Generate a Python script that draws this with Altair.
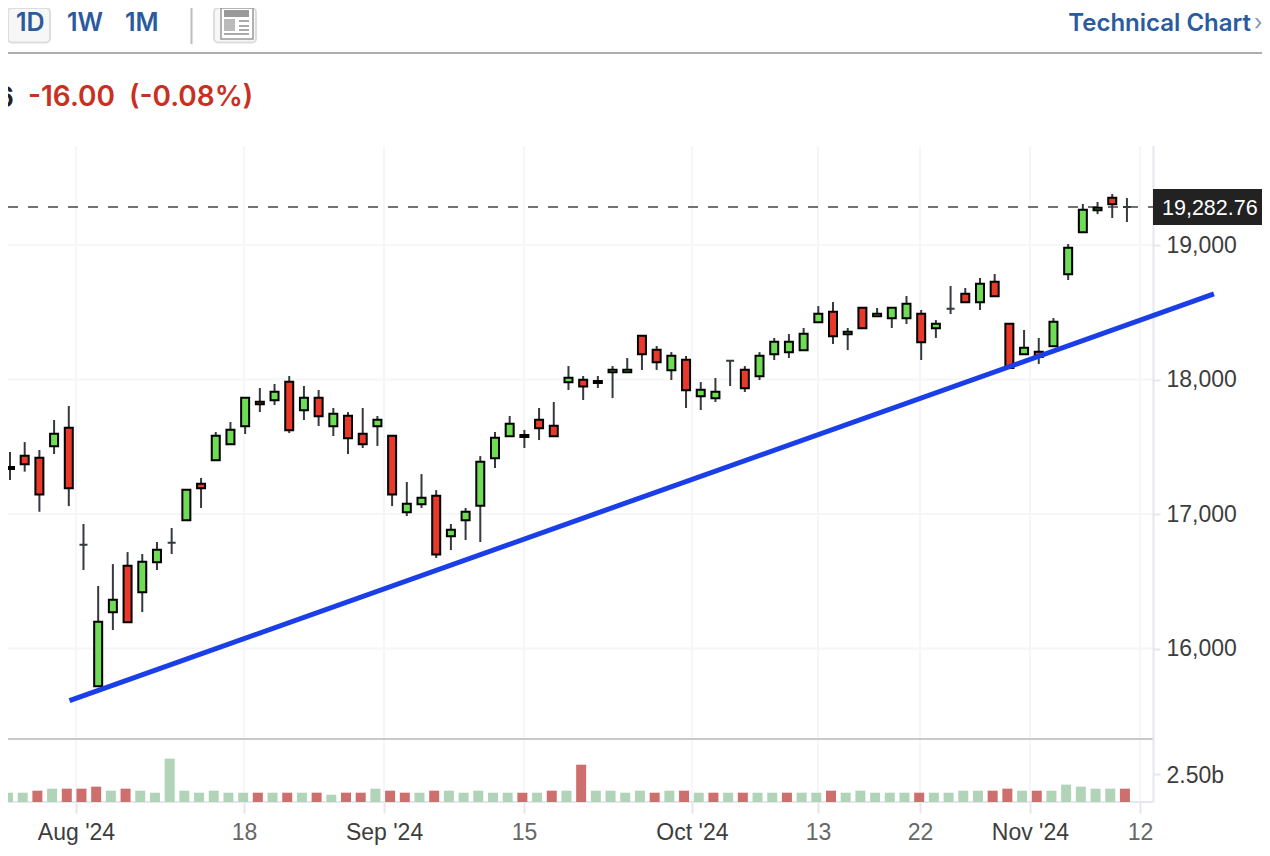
import json
import altair as alt
import pandas as pd

OPEN = [17335,17433,17419,17503,17642,16772,15719,16269,16616,16418,16641,16787,16953,17225,17399,17518,17652,17835,17845,17984,
        17771,17865,17652,17731,17597,17652,17582,17013,17072,17136,16834,16953,17062,17414,17578,17572,17701,17656,17979,17998,
        17974,18054,18054,18326,18222,18068,18147,17875,17860,18140,18073,18024,18187,18202,18217,18425,18504,18336,18534,18470,
        18455,18455,18489,18381,18526,18638,18574,18727,18415,18187,18207,18247,18782,19094,19258,19352,19283]
CLOSE = [17349,17370,17146,17597,17191,16772,16199,16363,16195,16645,16735,16787,17181,17191,17582,17627,17865,17816,17909,17622,
         17865,17726,17746,17563,17518,17701,17146,17077,17121,16700,16883,17017,17389,17567,17671,17587,17637,17578,18013,17949,
         17989,18073,18073,18187,18128,18177,17920,17924,17909,18140,17935,18177,18281,18281,18341,18489,18321,18355,18381,18489,
         18534,18564,18277,18415,18526,18574,18712,18619,18085,18236,18167,18430,18980,19262,19277,19303,19283]
HIGH = [17461,17535,17476,17699,17803,16926,16465,16628,16717,16703,16792,16896,17181,17268,17610,17684,17865,17937,17967,18026,
        17952,17922,17788,17758,17788,17729,17582,17238,17297,17178,16926,17045,17431,17610,17729,17625,17788,17833,18100,18026,
        18026,18100,18160,18326,18249,18204,18175,17981,18011,18140,18100,18204,18309,18338,18383,18546,18576,18383,18534,18532,
        18534,18621,18517,18442,18695,18680,18755,18784,18415,18368,18309,18457,19007,19305,19320,19379,19349]
LOW = [17253,17315,17017,17446,17059,16584,15719,16138,16195,16271,16584,16703,16953,17045,17399,17518,17595,17758,17810,17602,
       17699,17654,17580,17446,17491,17506,17059,16985,17045,16673,16732,16807,16792,17342,17578,17491,17550,17578,17922,17848,
       17937,17862,18054,18071,18071,17996,17788,17773,17833,17952,17907,17996,18145,18160,18217,18425,18264,18219,18381,18470,
       18383,18413,18145,18309,18487,18574,18517,18619,18085,18187,18115,18247,18740,19094,19230,19201,19171]
VOLUME = [0.83,0.83,1.01,1.19,1.19,1.19,1.37,1.01,1.19,1.01,0.83,3.87,1.01,0.83,1.01,0.83,0.83,0.83,0.83,0.83,
          0.83,0.83,0.65,0.83,0.83,1.19,1.01,0.83,0.83,1.01,1.01,0.83,1.01,0.83,0.83,0.83,0.83,1.01,1.01,3.33,
          1.01,1.01,0.83,1.01,0.83,1.01,1.01,0.83,0.83,0.83,0.83,0.83,0.83,0.83,0.83,0.83,1.01,0.83,1.01,0.83,
          0.83,0.83,0.83,0.83,0.83,1.01,1.01,1.01,1.19,1.01,1.01,1.01,1.55,1.37,1.19,1.19,1.19]
VOL_DIR = ["g","g","r","g","r","r","r","g","r","g","g","g","g","g","g","g","g","r","g","r",
           "g","r","g","r","r","g","r","r","g","r","g","g","g","g","g","r","g","r","g","r",
           "g","g","g","g","r","g","r","g","r","g","r","g","g","r","g","g","r","g","g","g",
           "g","g","r","g","g","g","g","r","r","g","r","g","g","g","g","g","r"]
TICK_IDX = [4.49, 15.92, 25.45, 34.97, 46.40, 54.98, 61.92, 69.40, 76.89]
TICK_LABELS = ["Aug '24", "18", "Sep '24", "15", "Oct '24", "13", "22", "Nov '24", "12"]
MONTH_TICKS = [4.49, 25.45, 46.40, 69.40]
PRICE_TICKS = [16000, 17000, 18000, 19000]
TREND_X = [4.05, 81.92]
TREND_Y = [15613, 18636]
LAST_PRICE = 19282.76

W, H = 1254, 838
FONT = "Liberation Sans"
UI = "Inter"

df = pd.DataFrame({"i": range(77), "open": OPEN, "close": CLOSE, "high": HIGH, "low": LOW, "vol": VOLUME, "vd": VOL_DIR})
df["dir"] = ["up" if c >= o else "down" for o, c in zip(OPEN, CLOSE)]
df["edge"] = ["doji" if o == c else "body" for o, c in zip(OPEN, CLOSE)]

xs = alt.Scale(domain=[-0.136, 85.19], nice=False, zero=False, padding=0)
ps = alt.Scale(domain=[14532, 20762], nice=False, zero=False)
vs = alt.Scale(domain=[-3.93, 70.89], nice=False, zero=False)
X0 = alt.X("i:Q", scale=xs, title=None)
blank = alt.Data(values=[{"a": 1}])


def px(v):
    return alt.value(v - 8)


def box(x1, y1, x2, y2, fill, stroke=None, sw=0, radius=0):
    kw = dict(fill=fill)
    if stroke:
        kw.update(stroke=stroke, strokeWidth=sw)
    if radius:
        kw.update(cornerRadius=radius)
    return alt.Chart(blank).mark_rect(**kw).encode(x=px(x1), x2=px(x2), y=px(y1), y2=px(y2))


def label(s, x, y, size, color, align="left", weight="normal", font=UI):
    return alt.Chart(blank).mark_text(text=s, align=align, baseline="middle", fontSize=size, fill=color,
                                      fontWeight=weight, font=font).encode(x=px(x), y=px(y))


def hline(x1, x2, y, color, w):
    return alt.Chart(blank).mark_rule(color=color, strokeWidth=w).encode(x=px(x1), x2=px(x2), y=px(y))


def vline(x, y1, y2, color, w):
    return alt.Chart(blank).mark_rule(color=color, strokeWidth=w).encode(x=px(x), y=px(y1), y2=px(y2))


X_AXIS = alt.Axis(
    orient="bottom", offset=-44, values=TICK_IDX, domain=False, grid=False,
    tickColor="#e6e7ee", tickWidth=2, tickSize=11,
    labelFont=FONT, labelFontSize=23, labelPadding=8, labelOverlap=False, labelFlush=False,
    labelExpr="%s[indexof(%s, datum.value)]" % (json.dumps(TICK_LABELS), json.dumps(TICK_IDX)),
    labelColor=alt.expr("indexof(%s, datum.value) >= 0 ? '#3d3d3d' : '#666666'" % json.dumps(MONTH_TICKS)))

grid_h = alt.Chart(pd.DataFrame({"p": PRICE_TICKS})).mark_rule(color="#f6f6f8", strokeWidth=2).encode(
    y=alt.Y("p:Q", scale=ps, axis=None), x=px(8), x2=px(1153))
grid_v = alt.Chart(pd.DataFrame({"t": TICK_IDX})).mark_rule(color="#f6f6f8", strokeWidth=2).encode(
    x=alt.X("t:Q", scale=xs, title=None, axis=X_AXIS), y=px(146), y2=px(802))

price_axis_layer = alt.Chart(pd.DataFrame({"p": PRICE_TICKS})).mark_rule(opacity=0).encode(
    y=alt.Y("p:Q", scale=ps, title=None, axis=alt.Axis(
        orient="right", offset=-109, values=PRICE_TICKS, domain=False, grid=False, format=",d",
        tickColor="#e6e7ee", tickWidth=2, tickSize=7, labelFont=FONT, labelFontSize=23,
        labelColor="#3d3d3d", labelPadding=6)))
vol_axis_layer = alt.Chart(pd.DataFrame({"v": [2.5]})).mark_rule(opacity=0).encode(
    y=alt.Y("v:Q", scale=vs, title=None, axis=alt.Axis(
        orient="right", offset=-109, values=[2.5], domain=False, grid=False, labelExpr="format(datum.value, '.2f') + 'b'",
        tickColor="#e6e7ee", tickWidth=2, tickSize=7, labelFont=FONT, labelFontSize=23, labelOffset=2,
        labelColor="#3d3d3d", labelPadding=6)))

last_rule = alt.Chart(pd.DataFrame({"p": [LAST_PRICE]})).mark_rule(color="#444444", strokeWidth=1.6, strokeDash=[10, 10]).encode(
    y=alt.Y("p:Q", scale=ps, axis=None), x=px(8), x2=px(1153))

wicks = alt.Chart(df).mark_rule(color="#343a40", strokeWidth=2).encode(
    x=X0, y=alt.Y("low:Q", scale=ps, axis=None), y2="high:Q")
bodies = alt.Chart(df).mark_bar(size=8, strokeWidth=2).encode(
    x=X0, y=alt.Y("open:Q", scale=ps, axis=None), y2="close:Q",
    fill=alt.Fill("dir:N", scale=alt.Scale(domain=["up", "down"], range=["#6fdc55", "#e8392a"]), legend=None),
    stroke=alt.Stroke("edge:N", scale=alt.Scale(domain=["body", "doji"], range=["#000000", "#343a40"]), legend=None))
vol_bars = alt.Chart(df).mark_bar(size=10, xOffset=-2).encode(
    x=X0, y=alt.Y("vol:Q", scale=vs, axis=None), y2=alt.Y2(datum=0),
    fill=alt.Fill("vd:N", scale=alt.Scale(domain=["g", "r"], range=["#b1d4b8", "#cd6f6c"]), legend=None))
trend = alt.Chart(pd.DataFrame({"x": TREND_X, "y": TREND_Y})).mark_line(color="#1a3fe8", strokeWidth=5).encode(
    x=alt.X("x:Q", scale=xs, title=None), y=alt.Y("y:Q", scale=ps, axis=None))

blue = "#2b5b9e"
chrome = [
    hline(8, 1262, 53, "#aeaeae", 2),
    box(8, 8, 50, 42.5, "#f7f7f8", "#dddddd", 2, 4),
    vline(191.5, 8, 44, "#bdbdbd", 2),
    box(214, 8, 256, 42.5, "#f7f7f8", "#dddddd", 2, 4),
    box(221, 8, 253, 39, "#ffffff", "#999999", 1.5),
    box(224, 10, 249, 17, "#999999"),
    box(224, 19, 235, 31, "#bbbbbb"),
    box(239, 20, 249, 22, "#aaaaaa"),
    box(239, 25, 249, 27, "#aaaaaa"),
    box(239, 29, 249, 31, "#aaaaaa"),
    box(224, 33, 249, 35, "#aaaaaa"),
    label("1D", 16, 23, 25, blue, weight=600),
    label("1W", 67, 23, 25, blue, weight=600),
    label("1M", 125, 23, 25, blue, weight=600),
    label("Technical Chart", 1251, 24, 24, blue, align="right", weight=600),
    label("›", 1254, 23, 22, "#7f96bd"),
    label("6", 14, 99, 28, "#222222", align="right", weight=600),
    label("-16.00", 28, 98, 28, "#c9301f", weight=600),
    label("(-0.08%)", 129, 98, 28, "#c9301f", weight=600),
    hline(8, 1153, 739, "#c9c9c9", 2),
    hline(8, 1153, 802, "#e6e7ee", 2),
    vline(1153.5, 146, 802, "#e6e7ee", 2),
]
price_tag = [
    box(1153, 189, 1262, 225, "#222222"),
    label("19,282.76", 1162, 209, 21.5, "#ffffff", font=FONT),
]

chart = alt.layer(
    grid_v, grid_h, *chrome, price_axis_layer, vol_axis_layer,
    last_rule, vol_bars, wicks, bodies, trend, *price_tag
).resolve_scale(y="independent", fill="independent", stroke="independent").properties(
    width=W, height=H, padding=0, background="#ffffff",
    autosize=alt.AutoSizeParams(type="none")
).configure_view(stroke=None)

chart.save("out.html", embed_options={"renderer": "svg", "actions": False})
